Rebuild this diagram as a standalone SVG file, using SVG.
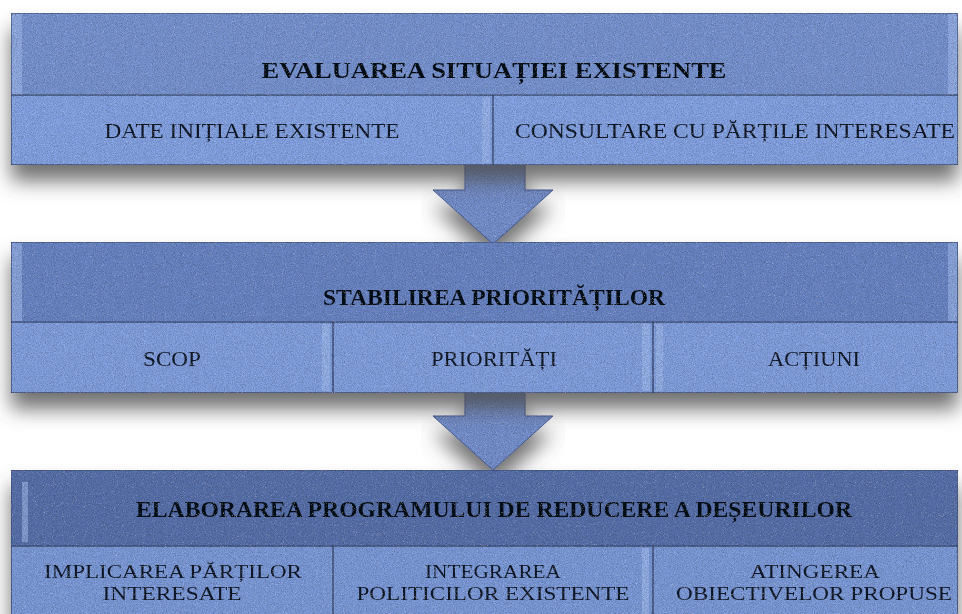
<svg xmlns="http://www.w3.org/2000/svg" width="962" height="614" viewBox="0 0 962 614">
<defs>
<style>
.hd{stroke:#3c4b70;stroke-width:1}
.cell{stroke:#34425f;stroke-width:1.2}
.h1{fill:#7b98d7}.h2{fill:#6d89ca}.h3{fill:#5b75b0}
.c1{fill:#88a7e9}.c2{fill:#86a4e5}.c3{fill:#809fdf}
.hl{fill:#a9c2f5;opacity:0.55}
.arr{fill:#7994d3;stroke:#4f64a0;stroke-width:1}
.ht{font-family:"Liberation Serif","Times New Roman",serif;font-weight:bold;font-size:23px;fill:#0f131c;text-anchor:middle}
.ct{font-family:"Liberation Serif","Times New Roman",serif;font-size:22px;fill:#151b2a;text-anchor:middle}
.ct2{font-family:"Liberation Serif","Times New Roman",serif;font-size:19px;fill:#151b2a;text-anchor:middle}
</style>
<filter id="sh" x="-10%" y="-30%" width="120%" height="180%">
<feGaussianBlur in="SourceAlpha" stdDeviation="10"/>
<feOffset dx="0" dy="16" result="b"/>
<feFlood flood-color="#4d4d4d" flood-opacity="0.8"/>
<feComposite in2="b" operator="in" result="s"/>
<feMerge><feMergeNode in="s"/><feMergeNode in="SourceGraphic"/></feMerge>
</filter>
<filter id="tex" x="0" y="0" width="100%" height="100%">
<feTurbulence type="fractalNoise" baseFrequency="1.1" numOctaves="2" seed="4" result="n"/>
<feColorMatrix in="n" type="matrix" values="0 0 0 0 0  0 0 0 0 0  0 0 0 0 0  0.9 0 0 0 -0.28" result="d"/>
<feComposite in="d" in2="SourceGraphic" operator="in" result="dd"/>
<feColorMatrix in="n" type="matrix" values="0 0 0 0 1  0 0 0 0 1  0 0 0 0 1  0 -0.9 0 0 0.32" result="l"/>
<feComposite in="l" in2="SourceGraphic" operator="in" result="ll"/>
<feMerge><feMergeNode in="SourceGraphic"/><feMergeNode in="dd"/><feMergeNode in="ll"/></feMerge>
</filter>
</defs>
<rect width="962" height="614" fill="#ffffff"/>

<g id="connectors" filter="url(#sh)">
<path class="arr" filter="url(#tex)" d="M465,160 L525,160 L525,190 L553,190 L493,244 L433,190 L465,190 Z"/>
<path class="arr" filter="url(#tex)" d="M465,388 L525,388 L525,416 L553,416 L493,470 L433,416 L465,416 Z"/>
</g>

<g id="block1" filter="url(#sh)">
<g id="evaluarea" filter="url(#tex)">
<rect class="hd h1" x="11" y="13" width="947" height="82"/>
<rect class="hl" x="12" y="14" width="10" height="80"/>
<rect class="hl" x="948" y="14" width="9" height="80"/>
<text class="ht" x="494" y="78" textLength="465" lengthAdjust="spacingAndGlyphs">EVALUAREA SITUAȚIEI EXISTENTE</text>
</g>
<g id="date-initiale" filter="url(#tex)">
<rect class="cell c1" x="11" y="95" width="482" height="70"/>
<rect class="hl" x="482" y="97" width="8" height="66"/>
<text class="ct" x="252" y="138" textLength="295" lengthAdjust="spacingAndGlyphs">DATE INIȚIALE  EXISTENTE</text>
</g>
<g id="consultare" filter="url(#tex)">
<rect class="cell c1" x="493" y="95" width="465" height="70"/>
<text class="ct" x="735" y="138" textLength="440" lengthAdjust="spacingAndGlyphs">CONSULTARE CU PĂRȚILE  INTERESATE</text>
</g>
</g>

<g id="block2" filter="url(#sh)">
<g id="stabilirea" filter="url(#tex)">
<rect class="hd h2" x="11" y="242" width="947" height="80"/>
<rect class="hl" x="12" y="243" width="10" height="78"/>
<rect class="hl" x="948" y="243" width="9" height="78"/>
<text class="ht" x="494" y="305" textLength="342" lengthAdjust="spacingAndGlyphs">STABILIREA PRIORITĂȚILOR</text>
</g>
<g id="scop" filter="url(#tex)">
<rect class="cell c2" x="11" y="322" width="322" height="71"/>
<rect class="hl" x="322" y="324" width="8" height="67"/>
<text class="ct" x="172" y="366" textLength="58" lengthAdjust="spacingAndGlyphs">SCOP</text>
</g>
<g id="prioritati" filter="url(#tex)">
<rect class="cell c2" x="333" y="322" width="320" height="71"/>
<rect class="hl" x="642" y="324" width="8" height="67"/>
<text class="ct" x="494" y="366" textLength="126" lengthAdjust="spacingAndGlyphs">PRIORITĂȚI</text>
</g>
<g id="actiuni" filter="url(#tex)">
<rect class="cell c2" x="653" y="322" width="305" height="71"/>
<rect class="hl" x="656" y="324" width="7" height="67"/>
<text class="ct" x="814" y="366" textLength="92" lengthAdjust="spacingAndGlyphs">ACȚIUNI</text>
</g>
</g>

<g id="block3" filter="url(#sh)">
<g id="elaborarea" filter="url(#tex)">
<rect class="hd h3" x="11" y="470" width="947" height="76"/>
<rect class="hl" x="22" y="482" width="6" height="60" opacity="0.35"/>
<text class="ht" x="494" y="517" textLength="716" lengthAdjust="spacingAndGlyphs">ELABORAREA  PROGRAMULUI DE REDUCERE A DEȘEURILOR</text>
</g>
<g id="implicarea" filter="url(#tex)">
<rect class="cell c3" x="11" y="546" width="322" height="75"/>
<text class="ct2" x="173" y="578" textLength="258" lengthAdjust="spacingAndGlyphs">IMPLICAREA  PĂRȚILOR</text>
<text class="ct2" x="172" y="600" textLength="139" lengthAdjust="spacingAndGlyphs">INTERESATE</text>
</g>
<g id="integrarea" filter="url(#tex)">
<rect class="cell c3" x="333" y="546" width="320" height="75"/>
<rect class="hl" x="642" y="548" width="7" height="66"/>
<text class="ct2" x="493" y="578" textLength="136" lengthAdjust="spacingAndGlyphs">INTEGRAREA</text>
<text class="ct2" x="493" y="600" textLength="273" lengthAdjust="spacingAndGlyphs">POLITICILOR  EXISTENTE</text>
</g>
<g id="atingerea" filter="url(#tex)">
<rect class="cell c3" x="653" y="546" width="305" height="75"/>
<text class="ct2" x="815" y="578" textLength="130" lengthAdjust="spacingAndGlyphs">ATINGEREA</text>
<text class="ct2" x="814" y="600" textLength="276" lengthAdjust="spacingAndGlyphs">OBIECTIVELOR  PROPUSE</text>
</g>
</g>
</svg>
